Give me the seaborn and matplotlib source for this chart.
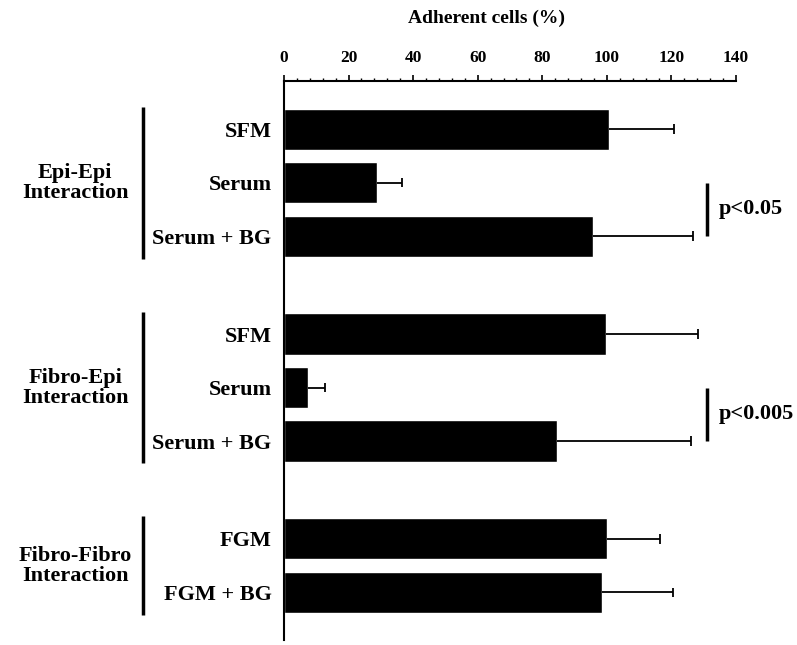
import numpy as np
import pandas as pd
import matplotlib
matplotlib.use("Agg")
import matplotlib.pyplot as plt
import seaborn as sns

# values
groups = ["Epi-Epi\nInteraction", "Fibro-Epi\nInteraction", "Fibro-Fibro\nInteraction"]
group_sizes = [3, 3, 2]
conditions = ["SFM", "Serum", "Serum + BG",
              "SFM", "Serum", "Serum + BG",
              "FGM", "FGM + BG"]
adherent = [100.7, 28.7, 95.8, 99.7, 7.3, 84.5, 100.1, 98.6]
adherent_err = [20.1, 7.8, 31.0, 28.6, 5.4, 41.7, 16.3, 22.0]
sig_labels = ["p<0.05", "p<0.005"]
sig_groups = [0, 1]

GROUP_GAP = 0.83


def bar_positions():
    pos = []
    start = 0.0
    for n in group_sizes:
        pos.extend(start + np.arange(n))
        start += n + GROUP_GAP
    return np.array(pos)


def main():
    sns.set_style("white")
    plt.rcParams["font.family"] = ["Liberation Serif", "DejaVu Serif"]
    plt.rcParams["font.weight"] = "bold"
    plt.rcParams["text.color"] = "black"
    plt.rcParams["xtick.color"] = "black"
    plt.rcParams["ytick.color"] = "black"

    pos = bar_positions()
    df = pd.DataFrame({"pos": pos, "adherent": adherent, "err": adherent_err})

    fig = plt.figure(figsize=(7.97, 6.45), dpi=100)
    ax = fig.add_axes([284 / 797, 5 / 645, 452 / 797, 559 / 645])

    sns.barplot(data=df, x="adherent", y="pos", orient="h", native_scale=True,
                color="black", width=0.77, errorbar=None, saturation=1, ax=ax)
    # one-sided error bars: whisker plus a cap at the far end only
    ends = df["adherent"] + df["err"]
    ax.hlines(df["pos"], df["adherent"], ends, color="black", lw=1.3)
    ax.vlines(ends, df["pos"] - 0.09, df["pos"] + 0.09, color="black", lw=1.3)

    ax.set_xlim(0, 140)
    ax.set_ylim(9.55, -0.9)

    # x axis on top
    ax.xaxis.tick_top()
    ax.set_xticks(np.arange(0, 141, 20))
    ax.set_xticks(np.arange(0, 141, 4), minor=True)
    ax.tick_params(axis="x", which="major", direction="out", length=4, width=1.2,
                   pad=7, labelsize=12.5, top=True, bottom=False)
    ax.tick_params(axis="x", which="minor", direction="out", length=2.5, width=1.0,
                   top=True, bottom=False)
    for lbl in ax.get_xticklabels():
        lbl.set_fontweight("bold")

    ax.set_yticks(pos)
    ax.set_yticklabels(conditions, fontsize=16, fontweight="bold")
    ax.tick_params(axis="y", length=0, pad=9)
    ax.set_xlabel("")
    ax.set_ylabel("")

    for side in ["right", "bottom"]:
        ax.spines[side].set_visible(False)
    for side in ["top", "left"]:
        ax.spines[side].set_linewidth(1.5)
        ax.spines[side].set_color("black")

    fig.text(487 / 797, 1 - 18 / 645, "Adherent cells (%)", ha="center", va="center",
             fontsize=14, fontweight="bold")

    # group brackets and labels on the left
    ytrans = ax.get_yaxis_transform()
    start = 0
    for name, n in zip(groups, group_sizes):
        first, last = pos[start], pos[start + n - 1]
        ax.plot([-0.312, -0.312], [first - 0.42, last + 0.42], color="black", lw=2.5,
                transform=ytrans, clip_on=False, solid_capstyle="butt")
        ax.text(-0.462, (first + last) / 2, name, transform=ytrans, ha="center",
                va="center", fontsize=16, fontweight="bold", linespacing=1.0)
        start += n

    # significance markers
    starts = np.cumsum([0] + group_sizes[:-1])
    for g, label in zip(sig_groups, sig_labels):
        y0, y1 = pos[starts[g] + 1], pos[starts[g] + 2]
        ax.plot([131, 131], [y0, y1], color="black", lw=2.5, clip_on=False,
                solid_capstyle="butt")
        ax.text(134.8, (y0 + y1) / 2, label, ha="left", va="center", fontsize=16,
                fontweight="bold", clip_on=False)

    fig.savefig("out.png", dpi=100)


main()
